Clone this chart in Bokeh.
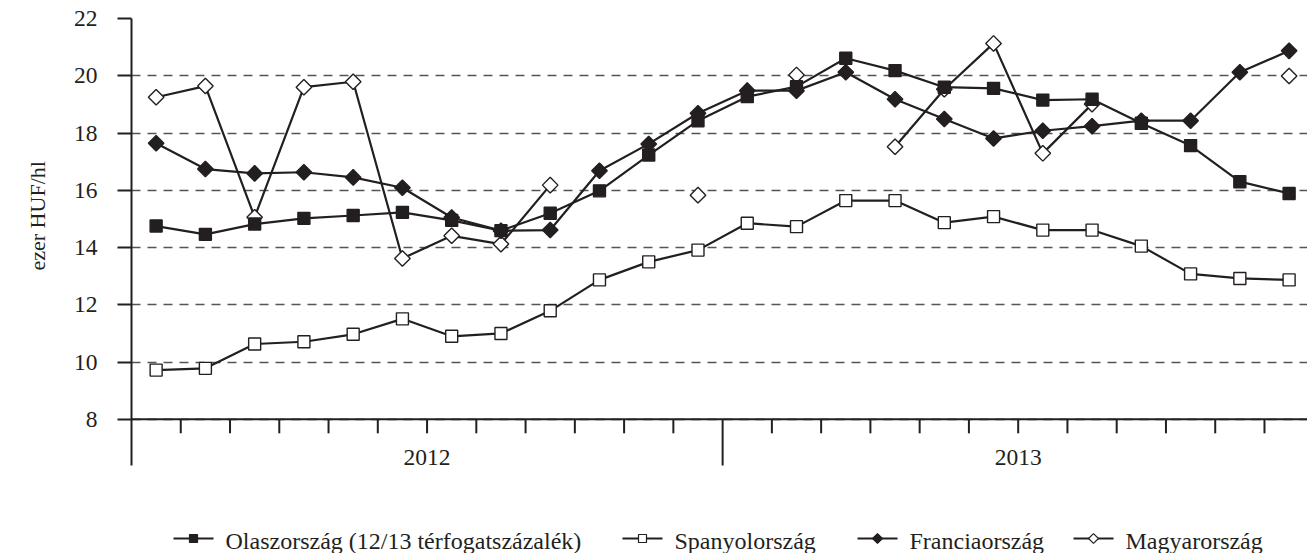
import numpy as np
from bokeh.plotting import figure
from bokeh.models import Range1d, FixedTicker, Title
from bokeh.embed import file_html
from bokeh.resources import INLINE
from bokeh.core.properties import value

nan = float("nan")

years = ["2012", "2013"]
months_per_year = 12
y_ticks = [8, 10, 12, 14, 16, 18, 20, 22]
y_title = "ezer HUF/hl"

names = ["Olaszország (12/13 térfogatszázalék)", "Spanyolország", "Franciaország", "Magyarország"]

olasz = [14.75, 14.46, 14.82, 15.02, 15.12, 15.23, 14.95, 14.59, 15.20, 15.98, 17.23, 18.43,
         19.27, 19.62, 20.61, 20.18, 19.60, 19.56, 19.15, 19.18, 18.34, 17.56, 16.30, 15.89]
spanyol = [9.72, 9.78, 10.63, 10.71, 10.97, 11.51, 10.90, 11.00, 11.79, 12.87, 13.50, 13.91,
           14.85, 14.73, 15.64, 15.64, 14.87, 15.08, 14.61, 14.61, 14.05, 13.08, 12.92, 12.87]
franc = [17.64, 16.74, 16.59, 16.63, 16.45, 16.09, 15.05, 14.59, 14.61, 16.68, 17.62, 18.69,
         19.48, 19.48, 20.12, 19.18, 18.49, 17.81, 18.08, 18.24, 18.43, 18.43, 20.12, 20.87]
magyar = [19.25, 19.64, 15.06, 19.60, 19.79, 13.62, 14.41, 14.12, 16.18, nan, nan, 15.83,
          nan, 20.03, nan, 17.52, 19.53, 21.13, 17.29, 19.01, nan, nan, nan, 19.99]

INK = "#231f20"
FONT = "Liberation Serif"
FS = "23.5px"

n = len(years) * months_per_year
xs = list(range(n))

# layout (pixels)
W, H = 1307, 553
LEFT, TOP = 131, 18
PPU = 28.63      # px per y unit
PXU = 49.26      # px per month
frame_h = H - TOP
frame_w = W - LEFT
y_top = max(y_ticks)
y_bot = y_top - frame_h / PPU
x_lo = -0.5
x_hi = x_lo + frame_w / PXU

def px_x(px):
    return x_lo + (px - LEFT) / PXU

def px_y(py):
    return y_top - (py - TOP) / PPU

p = figure(width=W, height=H, x_range=Range1d(x_lo, x_hi), y_range=Range1d(y_bot, y_top),
           output_backend="svg", toolbar_location=None, x_axis_location=None,
           min_border_left=LEFT, min_border_right=0, min_border_top=TOP, min_border_bottom=0)
p.outline_line_color = None
p.background_fill_color = "white"
p.xgrid.visible = False

y0 = min(y_ticks)
axis_low = px_y(465)

ya = p.yaxis[0]
ya.ticker = FixedTicker(ticks=y_ticks)
ya.bounds = (axis_low, y_top)
ya.axis_line_width = 2
ya.axis_line_color = INK
ya.major_tick_out = 14
ya.major_tick_in = 0
ya.major_tick_line_width = 2
ya.major_tick_line_color = INK
ya.minor_tick_line_color = None
ya.major_label_standoff = 20
ya.major_label_text_font = FONT
ya.major_label_text_font_size = FS
ya.major_label_text_color = INK

p.add_layout(Title(text=y_title, align="left", offset=283, vertical_align="top", standoff=38,
                   text_font=FONT, text_font_size="22px", text_font_style="normal",
                   text_color=INK), "left")

p.ygrid.ticker = FixedTicker(ticks=y_ticks)
p.ygrid.grid_line_color = "#555555"
p.ygrid.grid_line_dash = "9 7"
p.ygrid.grid_line_width = 1.3

# category axis drawn manually
p.segment(x0=[x_lo], y0=[y0], x1=[x_hi], y1=[y0], line_color=INK, line_width=2)
short = [i + 0.5 for i in range(n - 1) if (i + 1) % months_per_year != 0]
long_ = [i + 0.5 for i in range(n - 1) if (i + 1) % months_per_year == 0]
p.segment(x0=short, y0=[y0] * len(short), x1=short, y1=[y0 - 14 / PPU] * len(short),
          line_color=INK, line_width=2)
p.segment(x0=long_, y0=[y0] * len(long_), x1=long_, y1=[axis_low] * len(long_),
          line_color=INK, line_width=2)
year_x = [k * months_per_year + (months_per_year - 1) / 2 for k in range(len(years))]
p.text(x=year_x, y=[px_y(457)] * len(years), text=years, text_font=value(FONT),
       text_font_size=FS, text_align="center", text_baseline="middle", text_color=INK)

styles = [
    ("olasz", olasz, INK, 0.0),
    ("spanyol", spanyol, "white", 0.0),
    ("franc", franc, INK, np.pi / 4),
    ("magyar", magyar, "white", np.pi / 4),
]
draw_order = [3, 1, 0, 2]
for k in draw_order:
    _, vals, fill, ang = styles[k]
    p.line(xs, vals, line_color=INK, line_width=2.2)
    p.scatter(xs, vals, marker="square", size=11 if ang else 12, angle=ang,
              fill_color=fill, line_color=INK, line_width=1.4)

# legend drawn by hand at bottom
leg_glyph_px = [173, 622, 857, 1073]
leg_y = px_y(538)
leg_ty = px_y(540)
for k, gx in enumerate(leg_glyph_px):
    _, _, fill, ang = styles[k]
    p.line([px_x(gx), px_x(gx + 40)], [leg_y, leg_y], line_color=INK, line_width=2.2)
    p.scatter([px_x(gx + 20)], [leg_y], marker="square", size=7 if ang else 8, angle=ang,
              fill_color=fill, line_color=INK, line_width=1.2)
    p.text(x=[px_x(gx + 52)], y=[leg_ty], text=[names[k]], text_font=value(FONT),
           text_font_size="24px", text_align="left", text_baseline="middle", text_color=INK)

open("out.html", "w").write(file_html(p, INLINE))
